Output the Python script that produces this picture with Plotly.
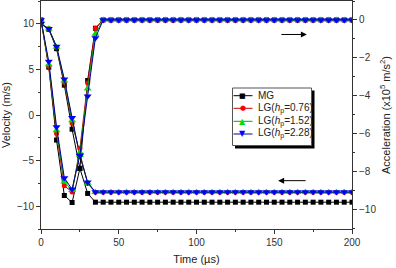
import plotly.graph_objects as go

time = [0, 5, 10, 15, 20, 25, 30, 35, 40, 45, 50, 55, 60, 65, 70, 75, 80, 85, 90, 95, 100,
        105, 110, 115, 120, 125, 130, 135, 140, 145, 150, 155, 160, 165, 170, 175, 180, 185, 190, 195, 200]

# Velocity (m/s), left axis
vel_mg = [10.0, 9.40, 7.27, 3.27, -1.56, -5.85, -8.60, -9.56, -9.56, -9.56, -9.56, -9.56, -9.56, -9.56,
          -9.56, -9.56, -9.56, -9.56, -9.56, -9.56, -9.56, -9.56, -9.56, -9.56, -9.56, -9.56, -9.56,
          -9.56, -9.56, -9.56, -9.56, -9.56, -9.56, -9.56, -9.56, -9.56, -9.56, -9.56, -9.56, -9.56, -9.56]
vel_076 = [10.0, 9.45, 7.40, 3.55, -0.90, -4.30, -7.50, -8.48, -8.48, -8.48, -8.48, -8.48, -8.48, -8.48,
           -8.48, -8.48, -8.48, -8.48, -8.48, -8.48, -8.48, -8.48, -8.48, -8.48, -8.48, -8.48, -8.48,
           -8.48, -8.48, -8.48, -8.48, -8.48, -8.48, -8.48, -8.48, -8.48, -8.48, -8.48, -8.48, -8.48, -8.48]
vel_152 = [10.0, 9.45, 7.45, 3.75, -0.60, -4.40, -7.45, -8.47, -8.47, -8.47, -8.47, -8.47, -8.47, -8.47,
           -8.47, -8.47, -8.47, -8.47, -8.47, -8.47, -8.47, -8.47, -8.47, -8.47, -8.47, -8.47, -8.47,
           -8.47, -8.47, -8.47, -8.47, -8.47, -8.47, -8.47, -8.47, -8.47, -8.47, -8.47, -8.47, -8.47, -8.47]
vel_228 = [10.0, 9.45, 7.52, 3.93, -0.30, -4.50, -7.38, -8.45, -8.45, -8.45, -8.45, -8.45, -8.45, -8.45,
           -8.45, -8.45, -8.45, -8.45, -8.45, -8.45, -8.45, -8.45, -8.45, -8.45, -8.45, -8.45, -8.45,
           -8.45, -8.45, -8.45, -8.45, -8.45, -8.45, -8.45, -8.45, -8.45, -8.45, -8.45, -8.45, -8.45, -8.45]

# Acceleration (x10^5 m/s^2), right axis
acc_mg = [0.0, -2.50, -6.35, -9.28, -9.65, -7.85, -3.20, -0.44, 0, 0, 0, 0, 0, 0, 0, 0, 0, 0, 0, 0, 0,
          0, 0, 0, 0, 0, 0, 0, 0, 0, 0, 0, 0, 0, 0, 0, 0, 0, 0, 0, 0]
acc_076 = [0.0, -2.45, -6.00, -8.76, -9.10, -6.80, -3.33, -0.44, 0, 0, 0, 0, 0, 0, 0, 0, 0, 0, 0, 0, 0,
           0, 0, 0, 0, 0, 0, 0, 0, 0, 0, 0, 0, 0, 0, 0, 0, 0, 0, 0, 0]
acc_152 = [0.0, -2.35, -5.85, -8.55, -9.00, -7.00, -3.64, -0.74, 0, 0, 0, 0, 0, 0, 0, 0, 0, 0, 0, 0, 0,
           0, 0, 0, 0, 0, 0, 0, 0, 0, 0, 0, 0, 0, 0, 0, 0, 0, 0, 0, 0]
acc_228 = [0.0, -2.20, -5.66, -8.35, -8.95, -7.15, -4.03, -0.95, 0, 0, 0, 0, 0, 0, 0, 0, 0, 0, 0, 0, 0,
           0, 0, 0, 0, 0, 0, 0, 0, 0, 0, 0, 0, 0, 0, 0, 0, 0, 0, 0, 0]

series_names = ["MG", "LG(<i>h</i><sub>p</sub>=0.76)", "LG(<i>h</i><sub>p</sub>=1.52)", "LG(<i>h</i><sub>p</sub>=2.28)"]
colors = ["#000000", "#ff0000", "#00e000", "#0000ff"]
line_colors = ["#000000", "#cc0000", "#00aa00", "#000099"]
symbols = ["square", "circle", "triangle-up", "triangle-down"]
legend_glyphs = ["■", "●", "▲", "▼"]
sizes = [5, 5, 7, 7]
vel_all = [vel_mg, vel_076, vel_152, vel_228]
acc_all = [acc_mg, acc_076, acc_152, acc_228]

FONT = "Liberation Sans, Arial, sans-serif"

# plot-area pixel frame (for placing the legend box in paper coordinates)
L, R, T, B = 41, 352, 1, 229
def pxx(p):
    return (p - L) / (R - L)
def pxy(p):
    return (B - p) / (B - T)

fig = go.Figure()
for i in range(4):
    fig.add_trace(go.Scatter(
        x=time, y=vel_all[i], name=series_names[i], mode="lines+markers",
        showlegend=False,
        line=dict(color=line_colors[i], width=1),
        marker=dict(symbol=symbols[i], size=sizes[i], color=colors[i], line=dict(width=0)),
        yaxis="y"))
for i in range(4):
    fig.add_trace(go.Scatter(
        x=time, y=acc_all[i], name=series_names[i], mode="lines+markers",
        showlegend=False,
        line=dict(color=line_colors[i], width=1),
        marker=dict(symbol=symbols[i], size=sizes[i], color=colors[i], line=dict(width=0)),
        yaxis="y2"))

# legend (box with drop shadow, sample lines, glyphs, labels)
shapes = [
    dict(type="rect", xref="paper", yref="paper", x0=pxx(235), x1=pxx(314.5), y0=pxy(148.5), y1=pxy(90.5),
         fillcolor="#000000", line=dict(width=0), layer="above"),
    dict(type="rect", xref="paper", yref="paper", x0=pxx(232.5), x1=pxx(311.5), y0=pxy(145.5), y1=pxy(88),
         fillcolor="#ffffff", line=dict(color="#555555", width=1), layer="above"),
]
annotations = [
    dict(x=171, y=8.83, xref="x", yref="y", ax=-27, ay=0, text="", showarrow=True,
         arrowhead=2, arrowsize=1.2, arrowwidth=1, arrowcolor="#000000"),
    dict(x=152.5, y=-7.2, xref="x", yref="y", ax=29, ay=0, text="", showarrow=True,
         arrowhead=2, arrowsize=1.2, arrowwidth=1, arrowcolor="#000000"),
]
row_y = [95.7, 108.3, 121.3, 134.0]
glyph_sizes = [7, 7, 8, 8]
for i in range(4):
    shapes.append(dict(type="line", xref="paper", yref="paper", x0=pxx(233.5), x1=pxx(252.5),
                       y0=pxy(row_y[i]), y1=pxy(row_y[i]), line=dict(color=line_colors[i], width=1),
                       layer="above"))
    annotations.append(dict(x=pxx(243), y=pxy(row_y[i]), xref="paper", yref="paper", text=legend_glyphs[i],
                            showarrow=False, xanchor="center", yanchor="middle", borderpad=0,
                            font=dict(family="DejaVu Sans", size=glyph_sizes[i], color=colors[i])))
    annotations.append(dict(x=pxx(257), y=pxy(row_y[i]), xref="paper", yref="paper", text=series_names[i],
                            showarrow=False, xanchor="left", yanchor="middle", borderpad=0,
                            font=dict(family=FONT, size=10, color="#222222")))

axis_common = dict(showgrid=False, zeroline=False, showline=True, linecolor="#333333", linewidth=1,
                   ticks="outside", ticklen=4, tickcolor="#333333",
                   tickfont=dict(family=FONT, size=10, color="#333333"))

fig.update_layout(
    width=396, height=268,
    margin=dict(l=L, r=396 - R, t=T, b=268 - B),
    paper_bgcolor="white", plot_bgcolor="white",
    font=dict(family=FONT, size=10, color="#222222"),
    xaxis=dict(range=[0, 200], tickvals=[0, 50, 100, 150, 200], mirror=True,
               minor=dict(dtick=25, ticks="outside", ticklen=2, tickcolor="#333333"),
               title=dict(text="Time (µs)", font=dict(family=FONT, size=11, color="#222222"), standoff=8),
               **axis_common),
    yaxis=dict(range=[-12.5, 12.5], tickvals=[-10, -5, 0, 5, 10],
               minor=dict(dtick=2.5, ticks="outside", ticklen=2, tickcolor="#333333"),
               title=dict(text="Velocity (m/s)", font=dict(family=FONT, size=11, color="#222222"), standoff=6),
               **axis_common),
    yaxis2=dict(range=[-11.05, 1.0], tickvals=[-10, -8, -6, -4, -2, 0], overlaying="y", side="right",
                minor=dict(dtick=1, ticks="outside", ticklen=2, tickcolor="#333333"),
                title=dict(text="Acceleration (x10<sup>5</sup> m/s<sup>2</sup>)",
                           font=dict(family=FONT, size=11, color="#222222"), standoff=6),
                **axis_common),
    showlegend=False,
    shapes=shapes,
    annotations=annotations,
)

fig.write_html("out.html")
